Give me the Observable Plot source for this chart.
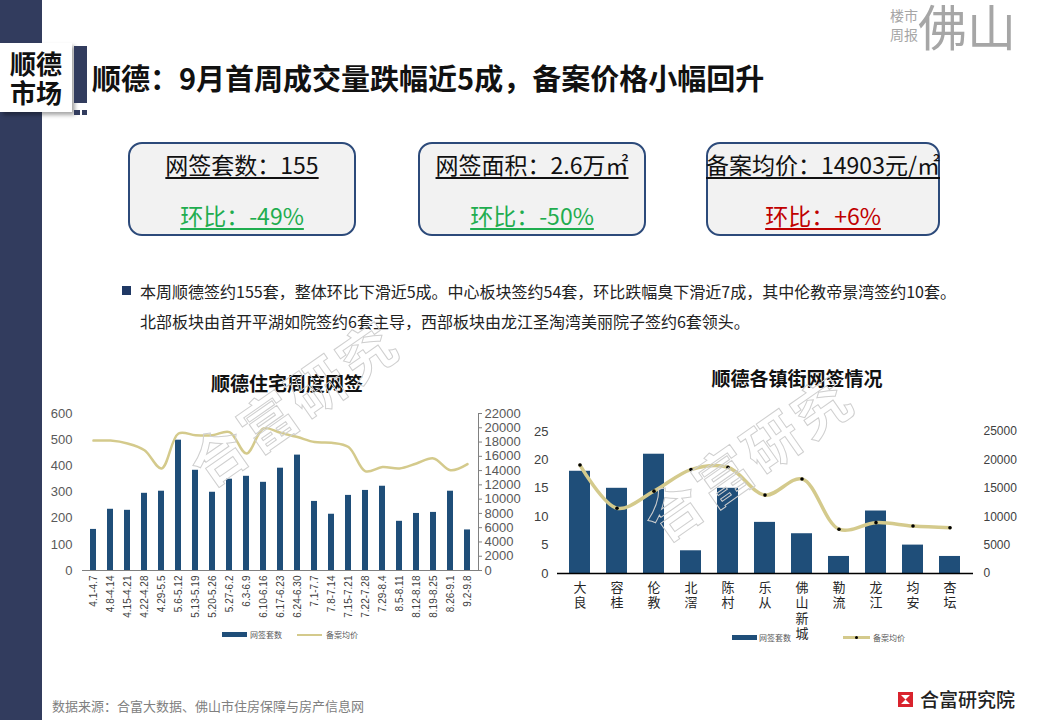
<!DOCTYPE html>
<html><head><meta charset="utf-8">
<script src="https://cdn.jsdelivr.net/npm/d3@7"></script>
<script src="https://cdn.jsdelivr.net/npm/@observablehq/plot@0.6"></script>
<style>
body{margin:0;width:1040px;height:720px;position:relative;overflow:hidden;background:#fff;font-family:"Noto Sans CJK SC","Liberation Sans",sans-serif;}
.abs{position:absolute;white-space:nowrap}
.box{position:absolute;top:142px;height:94px;box-sizing:border-box;border:2.5px solid #2c4a7a;border-radius:14px;background:#f2f2f2}
.box .t1,.box .t2{position:absolute;left:0;right:0;text-align:center;font-size:23px;line-height:28px;text-decoration:underline;text-underline-offset:3px;text-decoration-thickness:1.5px;white-space:nowrap}
.box .t1{top:6px;color:#111}
.box .t2{top:57px}
.ctitle{position:absolute;font-size:19px;font-weight:700;color:#111;text-align:center;white-space:nowrap}
.leg{position:absolute;font-size:8px;color:#595959;white-space:nowrap;line-height:10px}
.wm{position:absolute;font-size:56px;font-weight:700;color:transparent;-webkit-text-stroke:1px #cfcfcf;transform:rotate(-35deg);white-space:nowrap;pointer-events:none;letter-spacing:4px}
</style></head><body>
<div class="abs" style="left:0;top:0;width:42px;height:720px;background:#323c5e"></div>
<div class="abs" style="left:0;top:43px;width:72px;height:69px;background:#fff;box-shadow:3px 3px 4px rgba(0,0,0,0.35);"></div>
<div class="abs" style="left:0;top:48px;width:72px;text-align:center;font-weight:700;font-size:26px;line-height:29px;color:#111">顺德</div>
<div class="abs" style="left:0;top:77px;width:72px;text-align:center;font-weight:700;font-size:26px;line-height:29px;color:#111">市场</div>
<div class="abs" style="left:74px;top:46px;width:13px;height:57px;background:#323c5e"></div>
<div class="abs" style="left:74px;top:110px;width:6px;height:5px;background:#323c5e"></div>
<div class="abs" style="left:82px;top:110px;width:5px;height:5px;background:#323c5e"></div>
<div class="abs" style="left:92px;top:58px;font-size:29px;font-weight:700;line-height:38px;color:#111">顺德：9月首周成交量跌幅近5成，备案价格小幅回升</div>

<div class="abs" style="left:890px;top:6px;font-size:14px;line-height:19px;color:#a6a6a6">楼市</div>
<div class="abs" style="left:890px;top:25px;font-size:14px;line-height:19px;color:#a6a6a6">周报</div>
<div class="abs" style="left:918px;top:0px;font-size:49px;line-height:50px;color:#a6a6a6">佛山</div>

<div class="box" style="left:128px;width:228px"><div class="t1">网签套数：155</div><div class="t2" style="color:#1fad4f">环比：-49%</div></div>
<div class="box" style="left:418px;width:228px"><div class="t1">网签面积：2.6万㎡</div><div class="t2" style="color:#1fad4f">环比：-50%</div></div>
<div class="box" style="left:706px;width:234px"><div class="t1" style="left:-4px;right:-4px">备案均价：14903元/㎡</div><div class="t2" style="color:#c00000">环比：+6%</div></div>

<div class="abs" style="left:122px;top:286px;width:9px;height:9px;background:#1f3864"></div>
<div class="abs" style="left:140px;top:276px;font-size:16px;line-height:30px;color:#222">本周顺德签约155套，整体环比下滑近5成。中心板块签约54套，环比跌幅臭下滑近7成，其中伦教帝景湾签约10套。</div>
<div class="abs" style="left:140px;top:306px;font-size:16px;line-height:30px;color:#222">北部板块由首开平湖如院签约6套主导，西部板块由龙江圣淘湾美丽院子签约6套领头。</div>

<div class="ctitle" style="left:187px;top:369px;width:200px">顺德住宅周度网签</div>
<div class="ctitle" style="left:697px;top:364px;width:200px">顺德各镇街网签情况</div>

<div id="c1" class="abs" style="left:40px;top:400px"></div>
<div id="c2" class="abs" style="left:520px;top:410px"></div>

<div class="abs" style="left:222px;top:632px;width:25px;height:5px;background:#1f4e79"></div>
<div class="leg" style="left:250px;top:630px">网签套数</div>
<div class="abs" style="left:297px;top:634px;width:25px;height:2px;background:#d4ca8c"></div>
<div class="leg" style="left:326px;top:630px">备案均价</div>

<div class="abs" style="left:732px;top:635px;width:25px;height:5px;background:#1f4e79"></div>
<div class="leg" style="left:759px;top:633px">网签套数</div>
<div class="abs" style="left:843px;top:636px;width:27px;height:3px;background:#d4ca8c"></div>
<div class="abs" style="left:855px;top:636px;width:3px;height:3px;border-radius:2px;background:#000"></div>
<div class="leg" style="left:873px;top:633px">备案均价</div>

<div class="abs" style="left:52px;top:697px;font-size:13px;line-height:18px;color:#808080">数据来源：合富大数据、佛山市住房保障与房产信息网</div>
<svg class="abs" style="left:898px;top:692px" width="15" height="15" viewBox="0 0 15 15"><rect width="15" height="15" fill="#d9232d"/><path d="M3 3 L12 3 L7.5 7.5 Z M3 12 L12 12 L7.5 7.5 Z" fill="#fff"/></svg>
<div class="abs" style="left:920px;top:686px;font-size:19px;line-height:26px;font-weight:500;color:#222">合富研究院</div>

<div class="wm" style="left:172px;top:360px">合富研究</div>
<div class="wm" style="left:627px;top:415px">合富研究</div>

<script>
const weeks = ["4.1-4.7","4.8-4.14","4.15-4.21","4.22-4.28","4.29-5.5","5.6-5.12","5.13-5.19","5.20-5.26","5.27-6.2","6.3-6.9","6.10-6.16","6.17-6.23","6.24-6.30","7.1-7.7","7.8-7.14","7.15-7.21","7.22-7.28","7.29-8.4","8.5-8.11","8.12-8.18","8.19-8.25","8.26-9.1","9.2-9.8"];
const weeklyUnits = [157,234,230,295,303,498,383,299,349,360,337,391,441,264,215,287,306,322,188,218,222,303,155];
const weeklyPrice = [18200,18200,17800,16850,14300,19200,18950,18950,19400,16400,19900,19300,18700,18000,17900,17300,13900,14500,14300,15000,15700,14050,14903];
const unitTicks = [0,100,200,300,400,500,600];
const priceTicks = [0,2000,4000,6000,8000,10000,12000,14000,16000,18000,20000,22000];

const towns = ["大良","容桂","伦教","北滘","陈村","乐从","佛山新城","勒流","龙江","均安","杏坛"];
const townUnits = [18,15,21,4,15,9,7,3,11,5,3];
const townPrice = [19100,11500,14500,18300,18700,13800,16650,7800,8950,8350,8050];
const townUnitTicks = [0,5,10,15,20,25];
const townPriceTicks = [0,5000,10000,15000,20000,25000];

const font = '"Liberation Sans","Noto Sans CJK SC",sans-serif';
const lineColor = "#d4ca8c";
const barColor = "#1f4e79";

const weekData = weeks.map((w,i)=>({week:w, units:weeklyUnits[i], price:weeklyPrice[i]}));
const k1 = 600/22000;
const chart1 = Plot.plot({
  width:490, height:230, marginLeft:42, marginRight:52, marginTop:13, marginBottom:60,
  style:{fontFamily:font, color:"#595959", background:"transparent", overflow:"visible"},
  x:{type:"band", domain:weeks, paddingInner:0.65, paddingOuter:0.325, label:null},
  y:{domain:[0,600], label:null},
  marks:[
    Plot.barY(weekData,{x:"week", y:"units", fill:barColor}),
    Plot.line(weekData,{x:"week", y:d=>d.price*k1, curve:"catmull-rom", stroke:lineColor, strokeWidth:2.5}),
    Plot.ruleY([0],{stroke:"#808080", strokeWidth:1}),
    Plot.axisY(unitTicks,{anchor:"left", tickSize:0, tickPadding:10, fontSize:13, label:null}),
    Plot.axisY(priceTicks.map(v=>v*k1),{anchor:"right", tickSize:3, tickPadding:3, fontSize:13, label:null, stroke:"#808080", tickFormat:v=>String(Math.round(v/k1))}),
    Plot.frame({anchor:"right", stroke:"#808080"}),
    Plot.axisX({tickRotate:-90, tickSize:0, tickPadding:5, fontSize:10, label:null, fill:"#404040"})
  ]
});
document.getElementById("c1").appendChild(chart1);

const townData = towns.map((t,i)=>({town:t, units:townUnits[i], price:townPrice[i]}));
const k2 = 25/25000;
const charMarks = [0,1,2,3].map(i => Plot.text(towns.filter(t => t.length > i), {
  x:d=>d, text:d=>d[i], frameAnchor:"bottom", lineAnchor:"top", dy:9 + i*15.5,
  fontSize:13, fill:"#262626", fontFamily:'"Noto Sans CJK SC",sans-serif'
}));
const chart2 = Plot.plot({
  width:520, height:245, marginLeft:37, marginRight:67, marginTop:21, marginBottom:82,
  style:{fontFamily:font, color:"#404040", background:"transparent", overflow:"visible"},
  x:{type:"band", domain:towns, paddingInner:0.43, paddingOuter:0.215, axis:null, label:null},
  y:{domain:[0,25], label:null},
  marks:[
    Plot.barY(townData,{x:"town", y:"units", fill:barColor}),
    Plot.line(townData,{x:"town", y:d=>d.price*k2, curve:"catmull-rom", stroke:lineColor, strokeWidth:3.5}),
    Plot.dot(townData,{x:"town", y:d=>d.price*k2, r:1.8, fill:"#000", stroke:"none"}),
    Plot.ruleY([0],{stroke:"#000", strokeWidth:1.5}),
    Plot.axisY(townUnitTicks,{anchor:"left", tickSize:0, tickPadding:9, fontSize:13, label:null}),
    Plot.axisY(townPriceTicks.map(v=>v*k2),{anchor:"right", tickSize:0, tickPadding:10, fontSize:12, label:null, tickFormat:v=>String(Math.round(v/k2))}),
    ...charMarks
  ]
});
document.getElementById("c2").appendChild(chart2);
</script>
</body></html>
